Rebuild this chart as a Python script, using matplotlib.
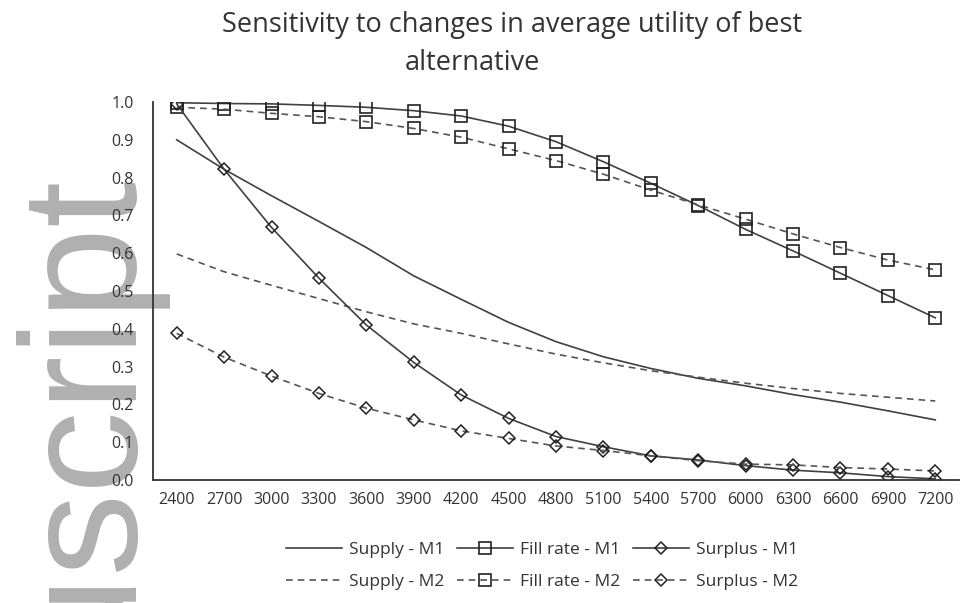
import numpy as np
import matplotlib
matplotlib.use("Agg")
import matplotlib.pyplot as plt

plt.rcParams['font.family'] = ['Open Sans', 'DejaVu Sans']

# demand levels on the x axis
levels = ['2400', '2700', '3000', '3300', '3600', '3900', '4200', '4500', '4800',
          '5100', '5400', '5700', '6000', '6300', '6600', '6900', '7200']

supply_m1 = [0.900, 0.822, 0.752, 0.684, 0.615, 0.540, 0.478, 0.417, 0.366,
             0.326, 0.295, 0.269, 0.249, 0.226, 0.206, 0.183, 0.159]
supply_m2 = [0.598, 0.551, 0.515, 0.480, 0.445, 0.413, 0.388, 0.360, 0.333,
             0.310, 0.289, 0.272, 0.256, 0.242, 0.229, 0.219, 0.209]
fill_m1 = [0.998, 0.996, 0.995, 0.991, 0.986, 0.977, 0.963, 0.936, 0.895,
           0.842, 0.785, 0.726, 0.663, 0.606, 0.547, 0.488, 0.429]
fill_m2 = [0.986, 0.981, 0.970, 0.961, 0.948, 0.930, 0.907, 0.876, 0.845,
           0.809, 0.767, 0.728, 0.690, 0.651, 0.615, 0.582, 0.556]
surplus_m1 = [0.995, 0.822, 0.668, 0.534, 0.410, 0.311, 0.225, 0.163, 0.115,
              0.088, 0.064, 0.053, 0.038, 0.026, 0.019, 0.009, 0.003]
surplus_m2 = [0.388, 0.325, 0.275, 0.229, 0.190, 0.159, 0.130, 0.110, 0.090,
              0.078, 0.064, 0.051, 0.042, 0.040, 0.033, 0.029, 0.024]

dark = '#404040'
W, H = 964, 603
fig = plt.figure(figsize=(W / 100, H / 100), dpi=100)

# grey watermark along the left edge, behind the axes
fig.text(137 / W, 1 - 181 / H, 'Author Manuscript', rotation=90,
         rotation_mode='anchor', ha='right', va='baseline',
         fontsize=119, color='#b0b0b0', family='Liberation Sans', zorder=-1)

ax = fig.add_axes([153 / W, 1 - 480 / H, (959 - 153) / W, (480 - 102) / H])
ax.patch.set_visible(False)

x = np.arange(len(levels))
lw = 1.2
dash = (0, (4, 3))
h1, = ax.plot(x, supply_m1, color=dark, lw=lw, label='Supply - M1')
h2, = ax.plot(x, supply_m2, color='#555555', lw=lw, linestyle=dash, label='Supply - M2')
h3, = ax.plot(x, fill_m1, color=dark, lw=lw, marker='s', ms=9, mfc='none',
              mec='#222222', mew=1.2, label='Fill rate - M1')
h4, = ax.plot(x, fill_m2, color='#555555', lw=lw, linestyle=dash, marker='s', ms=9,
              mfc='none', mec='#222222', mew=1.2, label='Fill rate - M2')
h5, = ax.plot(x, surplus_m1, color=dark, lw=lw, marker='D', ms=6, mfc='none',
              mec='#222222', mew=1.1, label='Surplus - M1')
h6, = ax.plot(x, surplus_m2, color='#555555', lw=lw, linestyle=dash, marker='D', ms=6,
              mfc='none', mec='#222222', mew=1.1, label='Surplus - M2')

ax.set_xlim(-0.5, len(levels) - 0.5)
ax.set_ylim(0, 1.0)
ax.set_xticks(x)
ax.set_xticklabels(levels)
ax.set_yticks(np.arange(0, 1.01, 0.1))
ax.set_yticklabels([f'{v:.1f}' for v in np.arange(0, 1.01, 0.1)])
ax.tick_params(length=0, labelsize=11.5, colors='#333333')
ax.tick_params(axis='x', pad=9)
ax.tick_params(axis='y', pad=14)
for side in ['top', 'right']:
    ax.spines[side].set_visible(False)
for side in ['left', 'bottom']:
    ax.spines[side].set_color('#333333')
    ax.spines[side].set_linewidth(1.3)

fig.text(512 / W, 1 - 32 / H, 'Sensitivity to changes in average utility of best',
         ha='center', va='baseline', fontsize=19.5, color='#333333')
fig.text(472 / W, 1 - 70 / H, 'alternative',
         ha='center', va='baseline', fontsize=19.5, color='#333333')

fig.legend(handles=[h1, h2, h3, h4, h5, h6], ncol=3, loc='center',
           bbox_to_anchor=(542 / W, 1 - 566 / H), frameon=False, fontsize=12.5,
           handlelength=3.2, handletextpad=0.4, columnspacing=0.75, labelspacing=0.95,
           labelcolor='#333333')

fig.savefig('out.png', dpi=100)
